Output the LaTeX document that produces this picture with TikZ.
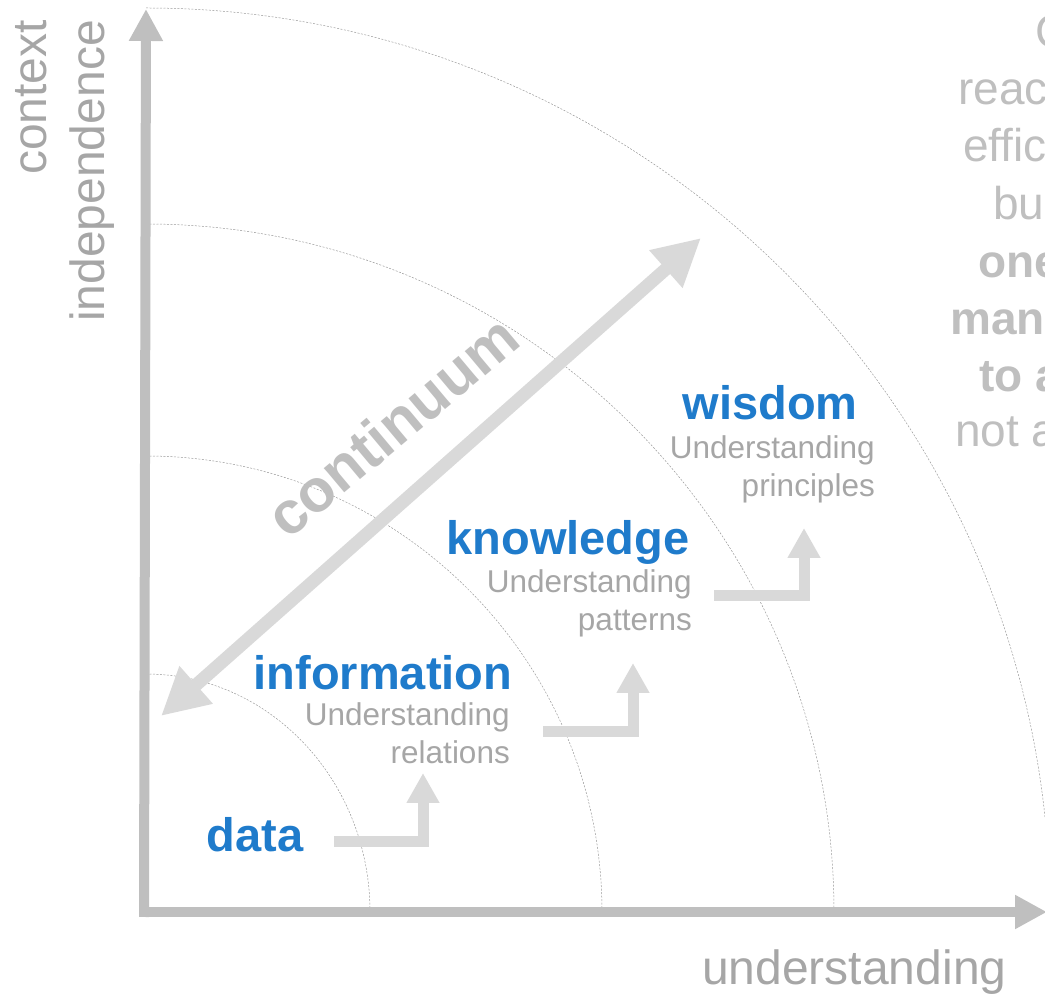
\documentclass[tikz,border=0pt]{standalone}
\usepackage{fontspec}
\setmainfont{Liberation Sans}
\usetikzlibrary{arrows.meta}
\definecolor{stageblue}{HTML}{1F7BCB}
\definecolor{axisgray}{HTML}{BFBFBF}
\definecolor{textgray}{HTML}{A6A6A6}
\definecolor{arrowgray}{HTML}{D9D9D9}
\definecolor{ringgray}{HTML}{9A9A9A}

\begin{document}
\begin{tikzpicture}[
            x=1pt, y=1pt,
            axis/.style={draw=axisgray, line width=10pt, -{Triangle[length=32pt,width=32pt]}},
            ring/.style={draw=ringgray, line width=0.5pt, dash pattern=on 2pt off 1.5pt},
            stage/.style={text=stageblue, font=\fontsize{47}{56}\selectfont\bfseries, inner sep=0pt},
            note/.style={text=textgray, font=\fontsize{31.5}{38.5}\selectfont, align=right, inner sep=0pt},
            stepup/.style={draw=arrowgray, line width=11pt, -{Triangle[length=30pt,width=31pt]}},
            axislabel/.style={text=textgray, font=\fontsize{48}{58}\selectfont, inner sep=0pt},
            side/.style={text=axisgray, font=\fontsize{46}{57}\selectfont, anchor=base west, inner sep=0pt},
        ]
            \useasboundingbox (0,0) rectangle (1045,996);

            % rings
            \foreach \rx/\ry/\stop in {224/238/0, 456/456/0, 688/688/0, 904/904/6}
                \draw[ring] (146,{84+\ry}) arc[start angle=90, end angle=\stop, x radius=\rx, y radius=\ry];

            % axes
            \coordinate (ybase) at (144,79);
            \coordinate (ytip) at (146,987);
            \coordinate (xbase) at (139,84);
            \coordinate (xtip) at (1047,84);
            \draw[axis] (ybase) -- (ytip);
            \draw[axis] (xbase) -- (xtip);
            \node[axislabel, rotate=90, anchor=south east, align=right] (yname) at (115,976) {context\\independence};
            \node[axislabel, anchor=base west] (xname) at (702,11) {understanding};

            % continuum
            \coordinate (low) at (161,280);
            \coordinate (high) at (701,758);
            \draw[draw=arrowgray, line width=13pt, {Triangle[length=47pt,width=47pt]}-{Triangle[length=47pt,width=47pt]}] (low) -- (high);
            \node[text=axisgray, font=\fontsize{60}{72}\selectfont\bfseries, rotate=40] (continuum) at (392,570) {continuum};

            % stages
            \node[stage, anchor=base] (data) at (255,144) {data};
            \node[stage, anchor=base] (information) at (383,306) {information};
            \node[stage, anchor=base] (knowledge) at (568,441) {knowledge};
            \node[stage, anchor=base] (wisdom) at (770,576) {wisdom};
            \node[note, anchor=north east] (infonote) at (510,294) {Understanding\\relations};
            \node[note, anchor=north east] (knownote) at (692,427) {Understanding\\patterns};
            \node[note, anchor=north east] (wisnote) at (875,561) {Understanding\\principles};

            % steps up
            \coordinate (data-out) at (334,154);
            \coordinate (info-in) at (423,223);
            \coordinate (info-out) at (543,264);
            \coordinate (know-in) at (633,333);
            \coordinate (know-out) at (714,400);
            \coordinate (wis-in) at (804,468);
            \draw[stepup] (data-out) -| (info-in);
            \draw[stepup] (info-out) -| (know-in);
            \draw[stepup] (know-out) -| (wis-in);

            % text running off the right edge
            \node[side] (side1) at (1035,948) {C};
            \node[side] (side2) at (958,891) {reac};
            \node[side] (side3) at (963,834) {effic};
            \node[side] (side4) at (993,776) {bu};
            \node[side, font=\fontsize{46}{57}\selectfont\bfseries] (side5) at (978,718) {one};
            \node[side, font=\fontsize{46}{57}\selectfont\bfseries] (side6) at (950,661) {man};
            \node[side, font=\fontsize{46}{57}\selectfont\bfseries] (side7) at (979,604) {to a};
            \node[side] (side8) at (955,549) {not a};
        \end{tikzpicture}
\end{document}
